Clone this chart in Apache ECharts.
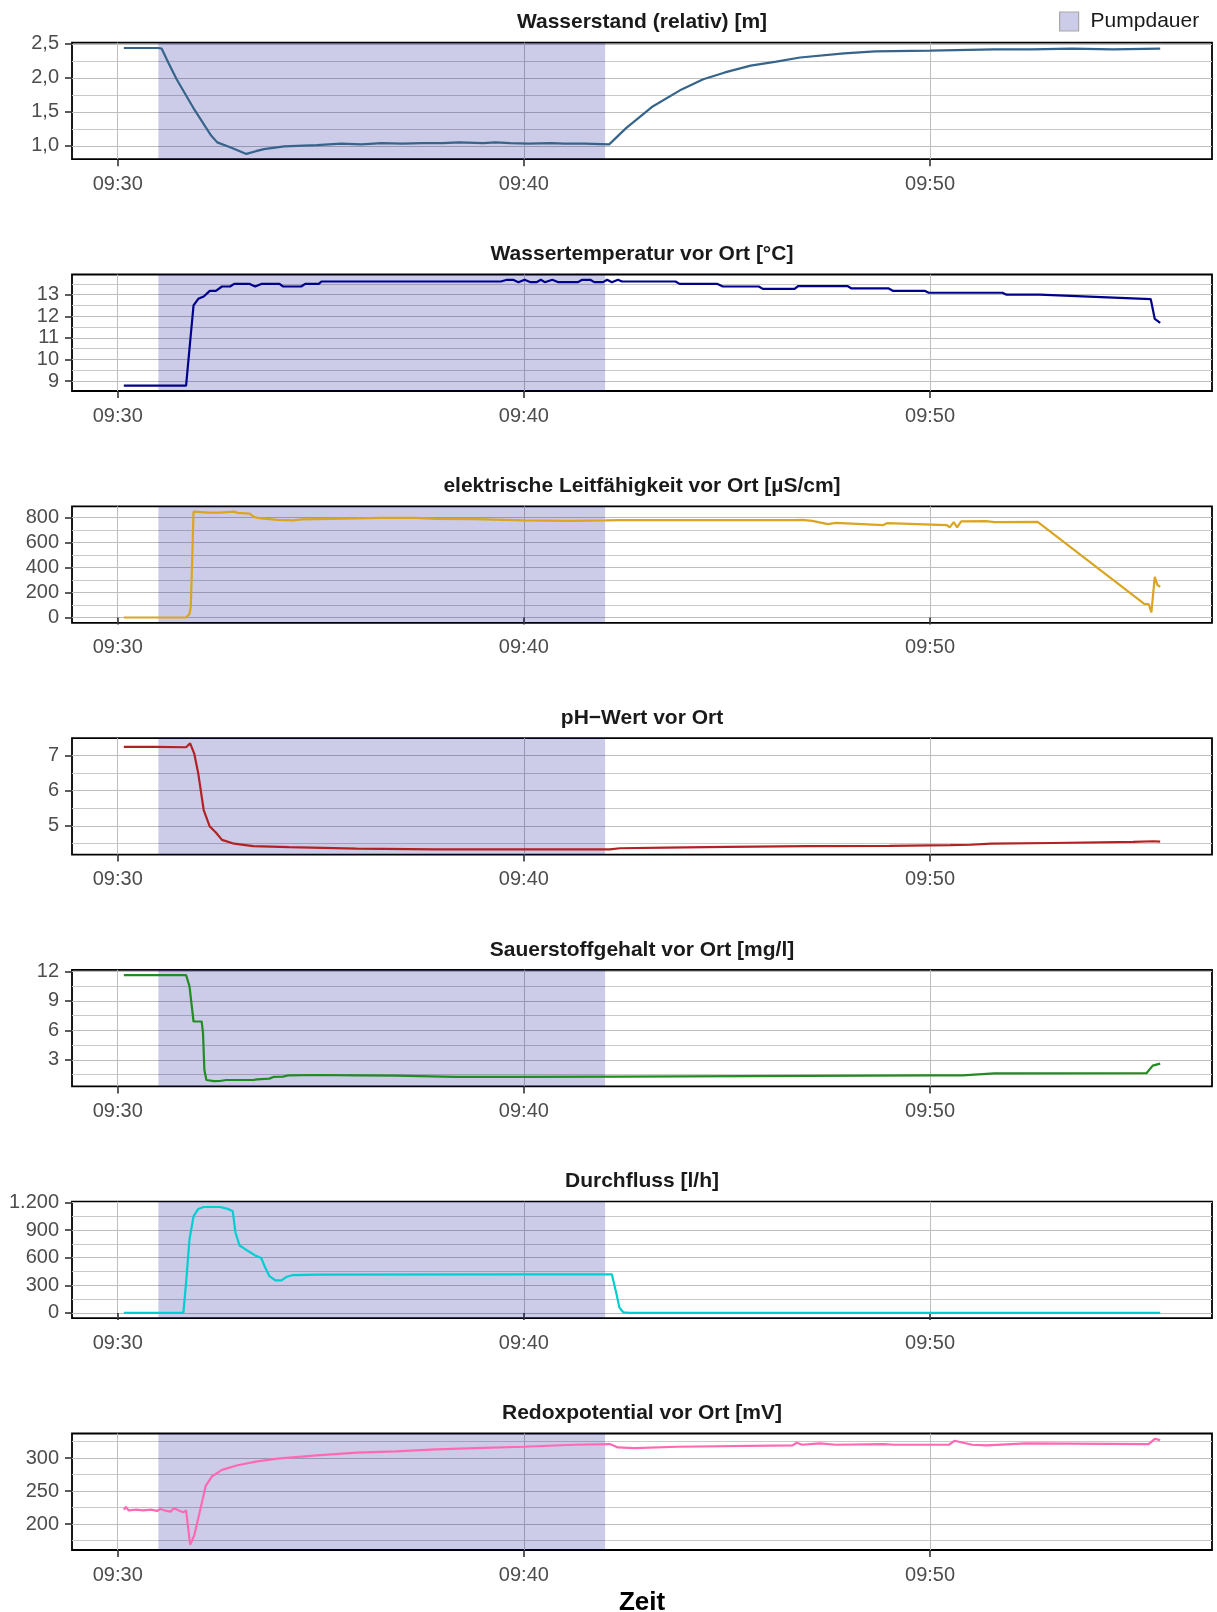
<!DOCTYPE html>
<html><head><meta charset="utf-8">
<script src="https://cdn.jsdelivr.net/npm/echarts@6/dist/echarts.min.js"></script>
<style>html,body{margin:0;padding:0;background:#fff}#c{width:1217px;height:1612px}</style>
</head><body><div id="c"></div>
<script>
// ---------- data ----------
const pumpPeriod = ['09:31:00', '09:42:00'];
const xTicks = ['09:30', '09:40', '09:50'];

const wsTime = ['09:30:09','09:31:00','09:31:05','09:31:15','09:31:27','09:31:54','09:32:18','09:32:27','09:32:48','09:33:10','09:33:24','09:33:36','09:34:06','09:34:54','09:35:30','09:36:00','09:36:30','09:37:00','09:37:30','09:38:00','09:38:24','09:39:00','09:39:18','09:39:40','09:40:06','09:40:40','09:41:00','09:41:30','09:42:06','09:42:31','09:43:09','09:43:53','09:44:25','09:44:57','09:45:35','09:46:13','09:46:48','09:47:53','09:48:39','09:50:00','09:51:35','09:52:30','09:53:30','09:54:30','09:55:40'];
const wsValue = [2.44,2.44,2.43,2.22,1.98,1.52,1.15,1.05,0.97,0.88,0.92,0.95,0.99,1.01,1.03,1.02,1.04,1.03,1.04,1.04,1.05,1.04,1.05,1.04,1.03,1.04,1.03,1.03,1.02,1.26,1.57,1.83,1.98,2.08,2.18,2.24,2.30,2.36,2.39,2.40,2.42,2.42,2.43,2.42,2.43];
const wsTicks = [1.0, 1.5, 2.0, 2.5];
const wsTickLabels = ['1,0', '1,5', '2,0', '2,5'];
const wsMinor = [1.25, 1.75, 2.25];

const tpTime = ['09:30:09','09:31:41','09:31:46','09:31:52','09:31:59','09:32:07','09:32:16','09:32:25','09:32:34','09:32:46','09:32:52','09:33:15','09:33:23','09:33:32','09:33:59','09:34:04','09:34:31','09:34:37','09:34:57','09:35:01','09:39:26','09:39:35','09:39:44','09:39:52','09:40:01','09:40:10','09:40:19','09:40:25','09:40:31','09:40:42','09:40:51','09:41:20','09:41:26','09:41:38','09:41:44','09:41:57','09:42:03','09:42:10','09:42:19','09:42:25','09:43:44','09:43:50','09:44:46','09:44:54','09:45:47','09:45:53','09:46:40','09:46:45','09:47:58','09:48:04','09:48:59','09:49:05','09:49:52','09:49:58','09:51:47','09:51:53','09:52:42','09:55:26','09:55:32','09:55:40'];
const tpValue = [8.79,8.79,10.5,12.51,12.81,12.92,13.18,13.18,13.38,13.38,13.50,13.50,13.38,13.50,13.50,13.38,13.38,13.50,13.50,13.61,13.61,13.69,13.69,13.58,13.69,13.58,13.58,13.69,13.58,13.69,13.58,13.58,13.69,13.69,13.58,13.58,13.69,13.58,13.69,13.61,13.61,13.50,13.50,13.38,13.38,13.27,13.27,13.40,13.40,13.29,13.29,13.18,13.18,13.09,13.09,13.00,13.00,12.80,11.88,11.70];
const tpTicks = [9, 10, 11, 12, 13];
const tpTickLabels = ['9', '10', '11', '12', '13'];
const tpMinor = [9.5, 10.5, 11.5, 12.5, 13.5];

const lfTime = ['09:30:09','09:31:41','09:31:46','09:31:48','09:31:52','09:32:13','09:32:31','09:32:52','09:32:57','09:33:15','09:33:21','09:33:29','09:33:56','09:34:19','09:34:31','09:34:54','09:35:53','09:36:28','09:37:20','09:37:50','09:38:48','09:40:00','09:41:08','09:42:01','09:42:23','09:46:40','09:46:51','09:47:06','09:47:29','09:47:41','09:48:51','09:48:57','09:50:25','09:50:29','09:50:35','09:50:40','09:50:46','09:51:23','09:51:35','09:52:39','09:55:17','09:55:23','09:55:27','09:55:32','09:55:36','09:55:40'];
const lfValue = [0,0,29,87,848,840,840,848,838,832,806,795,782,777,785,787,793,798,798,790,787,777,774,777,780,780,782,774,748,758,740,756,740,721,764,721,769,772,764,766,108,108,40,325,259,246];
const lfTicks = [0, 200, 400, 600, 800];
const lfTickLabels = ['0', '200', '400', '600', '800'];
const lfMinor = [100, 300, 500, 700];

const phTime = ['09:30:09','09:30:55','09:31:41','09:31:47','09:31:53','09:31:59','09:32:07','09:32:16','09:32:25','09:32:34','09:32:52','09:33:20','09:34:13','09:35:53','09:37:50','09:40:00','09:41:20','09:42:07','09:42:22','09:43:30','09:45:00','09:47:00','09:49:00','09:50:30','09:51:00','09:51:30','09:53:00','09:55:00','09:55:30','09:55:40'];
const phValue = [7.25,7.25,7.24,7.35,7.06,6.49,5.45,4.98,4.81,4.60,4.49,4.42,4.39,4.35,4.33,4.33,4.33,4.33,4.36,4.38,4.40,4.42,4.43,4.45,4.46,4.49,4.51,4.54,4.56,4.55];
const phTicks = [5, 6, 7];
const phTickLabels = ['5', '6', '7'];
const phMinor = [4.5, 5.5, 6.5];

const o2Time = ['09:30:09','09:31:41','09:31:46','09:31:52','09:32:04','09:32:06','09:32:08','09:32:11','09:32:22','09:32:31','09:32:40','09:33:20','09:33:26','09:33:44','09:33:50','09:34:04','09:34:13','09:34:54','09:35:53','09:36:51','09:38:19','09:40:00','09:42:23','09:50:00','09:50:48','09:51:35','09:55:20','09:55:29','09:55:40'];
const o2Value = [11.60,11.60,10.48,6.90,6.90,5.72,1.98,0.96,0.85,0.86,0.96,0.96,1.03,1.10,1.27,1.30,1.44,1.47,1.44,1.40,1.27,1.27,1.30,1.44,1.44,1.64,1.67,2.42,2.63];
const o2Ticks = [3, 6, 9, 12];
const o2TickLabels = ['3', '6', '9', '12'];
const o2Minor = [1.5, 4.5, 7.5, 10.5];

const dfTime = ['09:30:09','09:31:37','09:31:41','09:31:46','09:31:52','09:31:59','09:32:07','09:32:31','09:32:43','09:32:50','09:32:54','09:33:00','09:33:09','09:33:23','09:33:32','09:33:38','09:33:44','09:33:53','09:34:02','09:34:10','09:34:19','09:34:54','09:40:00','09:42:10','09:42:17','09:42:21','09:42:27','09:42:36','09:55:40'];
const dfValue = [0,0,328,797,1049,1129,1150,1150,1129,1103,869,732,689,624,595,490,400,353,353,393,411,415,418,418,200,60,5,0,0];
const dfTicks = [0, 300, 600, 900, 1200];
const dfTickLabels = ['0', '300', '600', '900', '1.200'];
const dfMinor = [150, 450, 750, 1050];

const rdTime = ['09:30:09','09:30:12','09:30:16','09:30:28','09:30:37','09:30:49','09:30:58','09:31:03','09:31:12','09:31:18','09:31:23','09:31:32','09:31:37','09:31:41','09:31:47','09:31:53','09:32:02','09:32:10','09:32:19','09:32:34','09:32:57','09:33:26','09:33:56','09:34:54','09:35:53','09:36:51','09:37:50','09:38:48','09:40:00','09:41:14','09:42:07','09:42:19','09:42:43','09:43:47','09:46:37','09:46:43','09:46:51','09:47:17','09:47:41','09:48:51','09:49:08','09:50:28','09:50:36','09:51:02','09:51:23','09:52:22','09:55:23','09:55:32','09:55:40'];
const rdValue = [222,226,221,222,221,222,220,223,220,219,224,220,218,221,169,183,222,258,272,282,289,295,299,304,308,310,313,315,317,320,321,316,315,317,319,323,320,322,320,321,320,320,326,320,319,322,321,329,327];
const rdTicks = [200, 250, 300];
const rdTickLabels = ['200', '250', '300'];
const rdMinor = [175, 225, 275, 325];

// ---------- helpers ----------
const FONT = '"Liberation Sans", Arial, Helvetica, sans-serif';
function toSec(s) { const p = s.split(':').map(Number); return p[0] * 3600 + p[1] * 60 + (p[2] || 0); }
function fmtTime(v) {
  const h = Math.floor(v / 3600), m = Math.round((v % 3600) / 60);
  return String(h).padStart(2, '0') + ':' + String(m).padStart(2, '0');
}

const panels = [
  { title: 'Wasserstand (relativ) [m]', color: '#36648B', time: wsTime, value: wsValue, ticks: wsTicks, labels: wsTickLabels, minor: wsMinor },
  { title: 'Wassertemperatur vor Ort [°C]', color: '#00008B', time: tpTime, value: tpValue, ticks: tpTicks, labels: tpTickLabels, minor: tpMinor },
  { title: 'elektrische Leitfähigkeit vor Ort [µS/cm]', color: '#DAA520', time: lfTime, value: lfValue, ticks: lfTicks, labels: lfTickLabels, minor: lfMinor },
  { title: 'pH\u2212Wert vor Ort', color: '#B22222', time: phTime, value: phValue, ticks: phTicks, labels: phTickLabels, minor: phMinor },
  { title: 'Sauerstoffgehalt vor Ort [mg/l]', color: '#228B22', time: o2Time, value: o2Value, ticks: o2Ticks, labels: o2TickLabels, minor: o2Minor },
  { title: 'Durchfluss [l/h]', color: '#00CED1', time: dfTime, value: dfValue, ticks: dfTicks, labels: dfTickLabels, minor: dfMinor },
  { title: 'Redoxpotential vor Ort [mV]', color: '#FF69B4', time: rdTime, value: rdValue, ticks: rdTicks, labels: rdTickLabels, minor: rdMinor }
];

// ---------- layout ----------
const GRID_LEFT = 72, GRID_RIGHT = 5, TOP0 = 42.7, STEP = 231.8, HEIGHT = 116.5;
const PLOT_CX = GRID_LEFT + (1217 - GRID_LEFT - GRID_RIGHT) / 2;
const GRID_COLOR = '#bdbdbd';
const MINOR_COLOR = '#c9c9c9';
const SHADE = 'rgba(0,0,139,0.2)';

const allSecs = panels.flatMap(p => p.time.map(toSec));
const tMin = Math.min(...allSecs), tMax = Math.max(...allSecs);
const xPad = 0.05 * (tMax - tMin);
const xMin = tMin - xPad, xMax = tMax + xPad;
const xTickSecs = xTicks.map(toSec);
const pumpSecs = pumpPeriod.map(toSec);

const grid = [], xAxis = [], yAxis = [], series = [], graphic = [];
panels.forEach((p, i) => {
  const top = TOP0 + i * STEP;
  grid.push({ left: GRID_LEFT, right: GRID_RIGHT, top: top, height: HEIGHT, show: true, borderColor: '#000', borderWidth: 1.8, backgroundColor: 'transparent' });
  xAxis.push({
    gridIndex: i, type: 'value', min: xMin, max: xMax,
    axisLine: { show: false },
    axisTick: { show: true, length: 7, lineStyle: { color: '#333', width: 1.6 }, customValues: xTickSecs },
    axisLabel: { customValues: xTickSecs, formatter: v => fmtTime(v), color: '#4d4d4d', fontSize: 20, fontFamily: FONT, margin: 15 },
    splitLine: { show: true, lineStyle: { color: GRID_COLOR, width: 1 } }
  });
  const lo = Math.min(...p.value), hi = Math.max(...p.value);
  const pad = 0.05 * (hi - lo);
  const yMin = lo - pad, yMax = hi + pad;
  yAxis.push({
    gridIndex: i, type: 'value', min: yMin, max: yMax,
    axisLine: { show: false },
    axisTick: { show: true, length: 7, lineStyle: { color: '#333', width: 1.6 }, customValues: p.ticks },
    axisLabel: { customValues: p.ticks, formatter: v => { const k = p.ticks.findIndex(t => Math.abs(t - v) < 1e-9); return k >= 0 ? p.labels[k] : ''; }, color: '#4d4d4d', fontSize: 20, fontFamily: FONT, margin: 13 },
    splitLine: { show: true, lineStyle: { color: GRID_COLOR, width: 1 } }
  });
  yAxis.push({
    gridIndex: i, type: 'value', min: yMin, max: yMax, position: 'left',
    axisLine: { show: false },
    axisTick: { show: false, customValues: p.minor },
    axisLabel: { show: false, customValues: p.minor },
    splitLine: { show: true, lineStyle: { color: MINOR_COLOR, width: 1 } }
  });
  series.push({
    name: 'Pumpdauer', type: 'line', xAxisIndex: i, yAxisIndex: 2 * i, data: [], z: 1,
    silent: true, animation: false,
    markArea: { silent: true, itemStyle: { color: SHADE }, data: [[{ xAxis: pumpSecs[0] }, { xAxis: pumpSecs[1] }]] }
  });
  series.push({
    name: p.title, type: 'line', xAxisIndex: i, yAxisIndex: 2 * i, z: 3,
    data: p.time.map((t, k) => [toSec(t), p.value[k]]),
    showSymbol: false, symbol: 'none', animation: false, silent: true,
    lineStyle: { color: p.color, width: 2.2 }, itemStyle: { color: p.color }
  });
  graphic.push({
    type: 'text', x: PLOT_CX, y: top - 20,
    style: { text: p.title, fill: '#1a1a1a', font: 'bold 21px ' + FONT, align: 'center', verticalAlign: 'middle' }
  });
});
graphic.push({
  type: 'text', x: PLOT_CX, y: 1603,
  style: { text: 'Zeit', fill: '#000', font: 'bold 26px ' + FONT, align: 'center', verticalAlign: 'middle' }
});

const chart = echarts.init(document.getElementById('c'), null, { renderer: 'canvas' });
chart.setOption({
  animation: false,
  backgroundColor: '#fff',
  grid, xAxis, yAxis, series, graphic,
  legend: {
    data: [{ name: 'Pumpdauer', icon: 'rect', itemStyle: { color: SHADE, borderColor: '#a8a8a8', borderWidth: 1.2 } }],
    left: 1059, top: 11, padding: 0, itemWidth: 19, itemHeight: 19, selectedMode: false,
    textStyle: { fontSize: 21, color: '#1a1a1a', fontFamily: FONT, padding: [0, 0, 0, 7] }
  }
});
</script>
</body></html>
